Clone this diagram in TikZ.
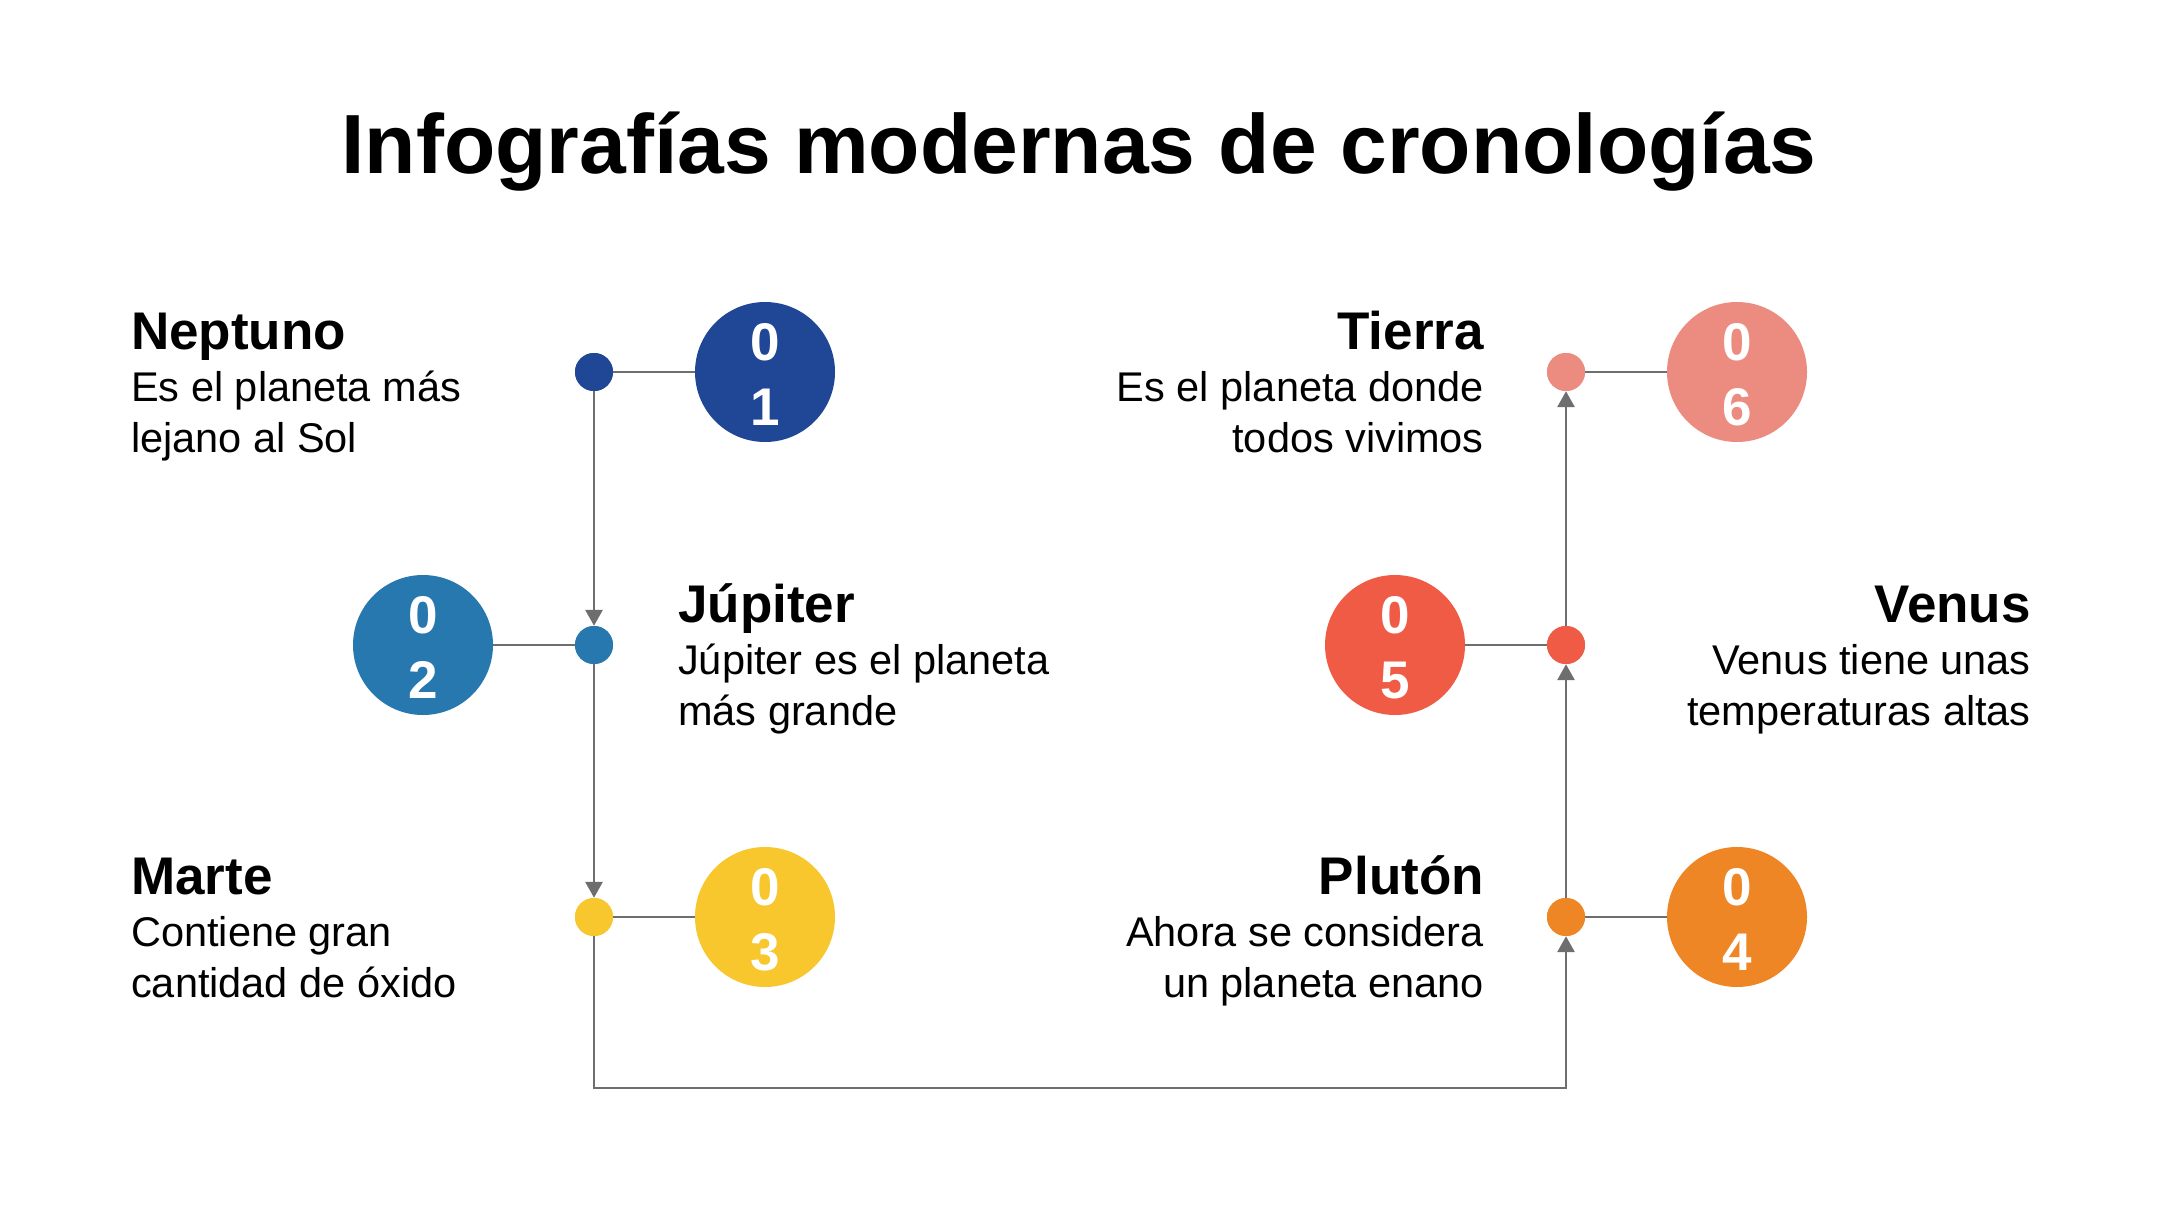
\documentclass[tikz,border=0pt]{standalone}
\usepackage{fontspec}
\setmainfont{Liberation Sans}
\usetikzlibrary{arrows.meta}
\definecolor{cA}{HTML}{1F4796}
\definecolor{cB}{HTML}{2878B0}
\definecolor{cC}{HTML}{F8C62D}
\definecolor{cD}{HTML}{EE8626}
\definecolor{cE}{HTML}{F05B45}
\definecolor{cF}{HTML}{EC8B7F}
\definecolor{lineg}{HTML}{6E6E6E}
\tikzset{
  dotnode/.style={circle, inner sep=0pt, minimum size=38pt, fill=#1},
  bignode/.style={circle, inner sep=0pt, minimum size=140pt, fill=#1},
  digit/.style={anchor=base, text=white, inner sep=0pt, font=\fontsize{53}{53}\selectfont\bfseries},
  headL/.style={anchor=base west, inner sep=0pt, font=\fontsize{53}{53}\selectfont\bfseries},
  headR/.style={anchor=base east, inner sep=0pt, font=\fontsize{53}{53}\selectfont\bfseries},
  descL/.style={anchor=base west, inner sep=0pt, font=\fontsize{41.5}{51}\selectfont},
  descR/.style={anchor=base east, inner sep=0pt, font=\fontsize{41.5}{51}\selectfont},
  conn/.style={draw=lineg, line width=2.8pt},
  arr/.style={conn, -{Triangle[width=17pt,length=16pt]}},
}
\begin{document}
\begin{tikzpicture}[x=1pt,y=-1pt]
\useasboundingbox[fill=white] (0,0) rectangle (2160,1215);
% title
\node[anchor=base, inner sep=0pt, font=\fontsize{84}{84}\selectfont\bfseries] (title) at (1079,173) {Infografías modernas de cronologías};
% dots
\node[dotnode=cA] (d1) at (594,372) {};
\node[dotnode=cB] (d2) at (594,645) {};
\node[dotnode=cC] (d3) at (594,917) {};
\node[dotnode=cD] (d4) at (1566,917) {};
\node[dotnode=cE] (d5) at (1566,645) {};
\node[dotnode=cF] (d6) at (1566,372) {};
\coordinate (bl) at (594,1088);
\coordinate (br) at (1566,1088);
% big circles
\node[bignode=cA] (c1) at (765,372) {};
\node[bignode=cB] (c2) at (423,645) {};
\node[bignode=cC] (c3) at (765,917) {};
\node[bignode=cD] (c4) at (1737,917) {};
\node[bignode=cE] (c5) at (1395,645) {};
\node[bignode=cF] (c6) at (1737,372) {};
% connectors
\draw[conn] (d1) -- (c1);
\draw[conn] (d2) -- (c2);
\draw[conn] (d3) -- (c3);
\draw[conn] (d4) -- (c4);
\draw[conn] (d5) -- (c5);
\draw[conn] (d6) -- (c6);
\draw[arr] (d1) -- (d2);
\draw[arr] (d2) -- (d3);
\draw[arr] (d3.south) -- (bl) -- (br) -- (d4.south);
\draw[arr] (d4) -- (d5);
\draw[arr] (d5) -- (d6);
% redraw dots on top
\node[dotnode=cA] at (d1) {};
\node[dotnode=cB] at (d2) {};
\node[dotnode=cC] at (d3) {};
\node[dotnode=cD] at (d4) {};
\node[dotnode=cE] at (d5) {};
\node[dotnode=cF] at (d6) {};
% digits
\node[digit] (n1a) at (765,360) {0};
\node[digit] (n1b) at (765,425) {1};
\node[digit] (n2a) at (423,633) {0};
\node[digit] (n2b) at (423,698) {2};
\node[digit] (n3a) at (765,905) {0};
\node[digit] (n3b) at (765,970) {3};
\node[digit] (n4a) at (1737,905) {0};
\node[digit] (n4b) at (1737,970) {4};
\node[digit] (n5a) at (1395,633) {0};
\node[digit] (n5b) at (1395,698) {5};
\node[digit] (n6a) at (1737,360) {0};
\node[digit] (n6b) at (1737,425) {6};
% texts
\node[headL] (t1) at (131,349) {Neptuno};
\node[descL] (t1a) at (131,401) {Es el planeta más};
\node[descL] (t1b) at (131,452) {lejano al Sol};
\node[headL] (t2) at (678,622) {Júpiter};
\node[descL] (t2a) at (678,674) {Júpiter es el planeta};
\node[descL] (t2b) at (678,725) {más grande};
\node[headL] (t3) at (131,894) {Marte};
\node[descL] (t3a) at (131,946) {Contiene gran};
\node[descL] (t3b) at (131,997) {cantidad de óxido};
\node[headR] (t4) at (1484,894) {Plutón};
\node[descR] (t4a) at (1484,946) {Ahora se considera};
\node[descR] (t4b) at (1484,997) {un planeta enano};
\node[headR] (t5) at (2031,622) {Venus};
\node[descR] (t5a) at (2031,674) {Venus tiene unas};
\node[descR] (t5b) at (2031,725) {temperaturas altas};
\node[headR] (t6) at (1484,349) {Tierra};
\node[descR] (t6a) at (1484,401) {Es el planeta donde};
\node[descR] (t6b) at (1484,452) {todos vivimos};
\end{tikzpicture}
\end{document}
